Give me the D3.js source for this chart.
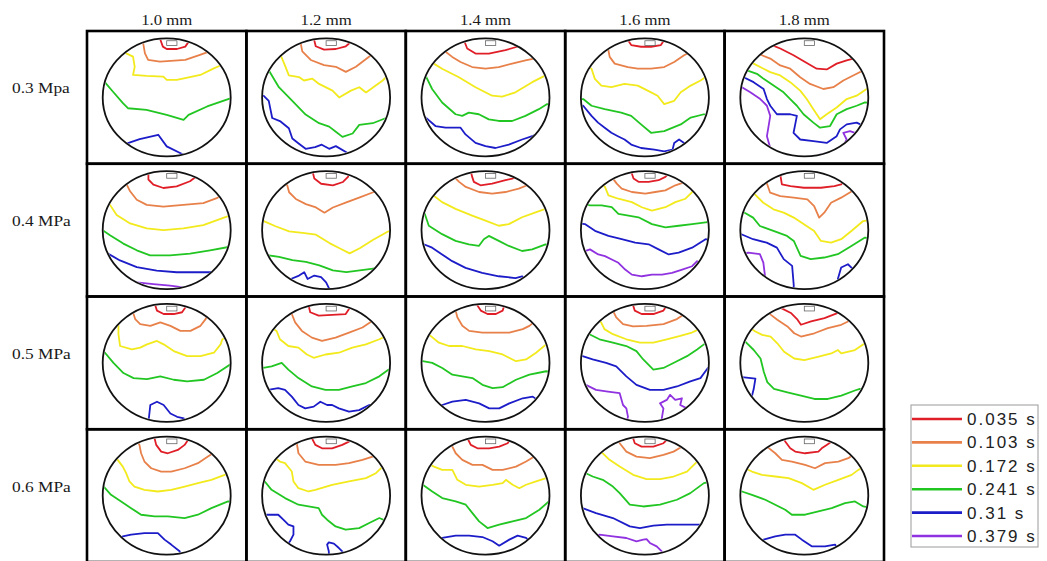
<!DOCTYPE html>
<html><head><meta charset="utf-8">
<script src="https://cdn.jsdelivr.net/npm/d3@7"></script>
<style>body{margin:0;background:#fff}svg{display:block}</style>
</head><body>
<svg id="chart" width="1047" height="561"></svg>
<script>
// Nozzle diameters (columns) and supply pressures (rows)
const diameters = ["1.0 mm", "1.2 mm", "1.4 mm", "1.6 mm", "1.8 mm"];
const pressures = ["0.3 Mpa", "0.4 MPa", "0.5 MPa", "0.6 MPa"];

// Fill-time isochrones (s) and their colours
const times = [0.035, 0.103, 0.172, 0.241, 0.31, 0.379];
const timeColors = ["#e01e28", "#e8804a", "#f2ea1c", "#22c622", "#1c1cc8", "#9032e0"];

// Isochrone polylines per cavity: [time, [[u, v], ...]], u/v in % of the disc's bounding box
const row03 = [
  [ // 1.0 mm
    [0.035, [[45,1],[47,7],[50,9],[58,9],[64.5,7],[68,1.5]]],
    [0.103, [[31.6,4],[33,12.7],[35.5,18.3],[44.7,19.7],[64.5,18.3],[76,14],[83,11.3]]],
    [0.172, [[18.4,12.7],[23.7,15.5],[25,24.2],[23.7,31],[34.2,31.8],[47.4,32.4],[50,35.2],[57.9,35.2],[76.3,31],[86.8,25.4],[92,23]]],
    [0.241, [[1.3,36.6],[7.9,45],[15.8,54.9],[19.7,59.2],[34.2,60.6],[50,64.8],[63.2,69],[67.1,64.8],[81.6,57.7],[100,50.7]]],
    [0.31,  [[19.7,88.7],[28.9,85.4],[43.4,81.7],[50,91.5],[63.2,98.6]]]
  ],
  [ // 1.2 mm
    [0.035, [[40.6,0.9],[41.9,6.7],[48.4,9.6],[57.6,9],[65.4,6.7],[70.2,2.3]]],
    [0.103, [[30.1,3.8],[31.4,11],[38,18.3],[48.4,22.6],[57.6,24.1],[65.4,28.4],[73.3,24.1],[83.8,15.4]]],
    [0.172, [[14.4,13.9],[18.3,24.1],[20.9,31.3],[28.8,32.8],[32.7,35.7],[39.3,34.2],[44.5,38.6],[55,44.3],[60.2,50.1],[69.4,44.3],[75.9,41.4],[81.2,45.8],[94.2,35.7],[96.9,32.8]]],
    [0.241, [[5.2,27],[13.1,41.4],[23.6,53],[34,64.6],[44.5,71.9],[52.4,74.8],[57.6,79.1],[62.8,83.5],[70.7,80.6],[75.9,73.3],[86.4,71.9],[96.9,67.5]]],
    [0.31,  [[1.3,48.7],[5.2,53],[7.9,67.5],[14.4,70.4],[20.9,76.2],[23.6,84.9],[28.8,89.3],[34,93.6],[41.4,92.2],[46.6,90.1],[52.4,93.6],[57.6,91.3],[68.1,98]]]
  ],
  [ // 1.4 mm
    [0.035, [[33.1,1.4],[35.7,8.6],[42.2,12.9],[52.6,12.9],[65.6,10],[74.7,7.1],[76,5.7]]],
    [0.103, [[18.8,11.4],[24,15.7],[30.5,20],[39.6,24.3],[50,25.7],[60.4,24.3],[70.8,21.4],[81.2,18.6],[87.8,17.1]]],
    [0.172, [[9.6,21.4],[16.1,25.7],[29.2,32.9],[42.2,41.4],[55.2,48.6],[63,49.4],[73.4,45.7],[86.5,37.1],[96.9,31.4]]],
    [0.241, [[3.1,31.4],[8.3,42.9],[16.1,54.3],[26.6,64.3],[31.8,65.7],[37,62.9],[44.8,64.3],[52.6,68.6],[60.4,70],[70.8,70],[81.2,65.7],[91.7,60],[98.2,55.7]]],
    [0.31,  [[1.8,65.7],[10.9,74.3],[18.8,75.7],[30.5,75.7],[34.4,81.4],[42.2,88.6],[50,91.4],[57.8,92.9],[68.2,90],[78.6,85.7],[86.5,82.9],[89.1,81.4]]]
  ],
  [ // 1.6 mm
    [0.035, [[36.7,1.4],[39.3,5.7],[47,7.1],[54.8,7.1],[62.5,5.7],[65.1,1.4]]],
    [0.103, [[21.2,8.6],[22.5,15.7],[26.4,21.4],[36.7,24.3],[44.4,25.7],[54.8,25.7],[65.1,24.3],[72.9,20],[80.6,14.3],[85.8,11.4]]],
    [0.172, [[8.3,25.7],[10.9,34.3],[16,40],[23.8,41.4],[34.1,38.6],[44.4,40],[52.2,44.3],[59.9,48.6],[65.1,55.7],[72.9,52.9],[78,45.7],[85.8,40],[93.5,35.7],[96.1,33.7]]],
    [0.241, [[1.8,51.4],[8.3,57.1],[18.6,60],[31.5,62.9],[39.3,65.7],[47,72.9],[54.8,80],[65.1,78.6],[78,72.9],[85.8,67.1],[96.1,64.3]]],
    [0.31,  [[1.8,57.1],[8.3,65.7],[13.4,71.4],[18.6,75.7],[23.8,80],[28.9,82.9],[34.1,85.7],[39.3,90],[47,92.9],[57.4,94.3],[65.1,95.7],[71.6,94.3],[72.9,88.6],[76.7,85.7],[80.6,88.6],[83.2,91.4]]]
  ],
  [ // 1.8 mm
    [0.035, [[24.7,5.7],[31.2,8.6],[41.6,14.3],[50.6,20],[59.7,25.7],[67.5,26.3],[75.3,21.4],[83.1,18.6],[88.3,17.1]]],
    [0.103, [[16.9,14.3],[23.4,17.1],[31.2,22.9],[39,25.7],[46.8,32.9],[54.5,38.6],[64.9,42.9],[72.7,41.4],[80.5,35.7],[90.9,30],[96.1,27.1]]],
    [0.172, [[10.4,21.4],[18.2,25.7],[23.4,28.6],[31.2,31.4],[39,37.1],[46.8,44.3],[51.9,51.4],[57.1,60],[62.3,68.6],[67.5,64.3],[75.3,58.6],[83.1,51.4],[90.9,48.6],[98.7,42.9]]],
    [0.241, [[5.2,27.1],[13,30],[18.2,34.3],[26,40],[33.8,45.7],[39,51.4],[44.2,57.1],[49.4,64.3],[57.1,71.4],[62.3,75.7],[70.1,74.3],[75.3,64.3],[83.1,60],[90.9,57.1],[97.4,54.3]]],
    [0.31,  [[2.6,32.9],[10.4,37.1],[18.2,42.9],[20.8,51.4],[23.4,57.1],[28.6,64.3],[39,64.3],[44.2,65.7],[42.9,72.9],[41.6,80],[46.8,85.7],[57.1,87.1],[67.5,88.6],[75.3,82.9],[77.9,77.1],[83.1,72.9],[90.9,71.4]]],
    [0.379, [[1.3,41.4],[7.8,45.7],[15.6,51.4],[20.8,57.1],[23.4,65.7],[22.1,74.3],[20.8,82.9],[23.4,92.9]]],
    [0.379, [[62.3,98.6],[72.7,95.7],[80.5,91.4],[83.1,85.7],[80.5,80],[85.7,78.6],[89.6,80]]]
  ]
];

const row04 = [
  [ // 1.0 mm
    [0.035, [[35.7,1.4],[35.7,7.1],[39.6,11.4],[47.4,14.3],[57.8,12.9],[68.2,8.6],[73.4,4.3]]],
    [0.103, [[18.8,11.4],[21.4,17.1],[26.6,24.3],[34.4,28.6],[47.4,30],[63,28.6],[78.6,27.1],[89.1,22.9]]],
    [0.172, [[5.7,28.6],[10.9,37.1],[21.4,44.3],[34.4,48.6],[47.4,50],[63,48.6],[78.6,45.7],[96.9,38.6]]],
    [0.241, [[0,50],[5.7,54.3],[16.1,61.4],[26.6,67.1],[37,71.4],[52.6,71.4],[68.2,70],[83.9,67.1],[98.2,64.3]]],
    [0.31,  [[4.4,70],[13.5,75.7],[26.6,81.4],[42.2,84.3],[57.8,85.7],[73.4,85.7],[86.5,85.7]]],
    [0.379, [[26.6,94.3],[39.6,95.7],[52.6,97.1],[63,98.6]]]
  ],
  [ // 1.2 mm
    [0.035, [[39.5,0.6],[40.8,6.3],[46.1,10.7],[55.3,12.1],[63.2,9.2],[67.1,4.9],[67.9,2]]],
    [0.103, [[19.7,12.1],[21.1,17.9],[26.3,23.6],[34.2,28],[42.1,30.8],[48.7,35.2],[55.3,30.8],[65.8,26.5],[76.3,22.2],[86.8,17.9]]],
    [0.172, [[1.3,42.4],[10.5,46.7],[21.1,51],[31.6,52.4],[42.1,53.9],[52.6,61],[60.5,65.4],[68.4,69.7],[76.3,65.4],[86.8,58.2],[98.7,51]]],
    [0.241, [[3.9,71.2],[13.2,72.6],[23.7,75.5],[34.2,76.9],[44.7,79.8],[55.3,84.1],[65.8,85.6],[76.3,84.1],[86.8,82.7],[97.4,76.9]]],
    [0.31,  [[22.4,91.4],[28.9,88.5],[32.9,85.6],[35.5,91.4],[40.8,88.5],[46.1,89.9],[50,94.2],[52.6,100]]]
  ],
  [ // 1.4 mm
    [0.035, [[39.6,4.9],[40.9,9.1],[46.1,12],[55.2,10.6],[65.6,7.7],[70.8,6.3],[76,4]]],
    [0.103, [[25.5,4.9],[29.4,9.1],[34.6,13.4],[45,17.7],[55.2,19.1],[65.6,17.7],[76,14.9],[82.6,12]]],
    [0.172, [[10.9,22],[16.1,26.3],[26.6,32],[39.6,37.7],[50,42],[60.4,46.3],[68.2,44.9],[78.6,39.1],[89.1,34.9],[96.9,32]]],
    [0.241, [[2.6,36.3],[5.7,46.3],[16.1,53.4],[26.6,59.1],[37,62],[44.8,63.4],[48.7,57.7],[52.6,54.9],[60.4,59.1],[68.2,63.4],[78.6,67.7],[86.5,66.3],[96.9,62]]],
    [0.31,  [[1.8,62],[8.3,64.9],[16.1,70.6],[24,76.3],[34.4,82],[47.4,86.3],[60.4,89.1],[73.4,90.6],[78.6,89.1]]]
  ],
  [ // 1.6 mm
    [0.035, [[39.8,2],[41.1,6.3],[45,9.1],[52.9,9.1],[60.7,7.7],[66,4.9],[68.6,2]]],
    [0.103, [[24.1,4.9],[28,10.6],[31.9,14.9],[39.8,17.7],[50.3,19.1],[58.1,17.7],[66,16.3],[73.8,12],[81.7,9.1]]],
    [0.172, [[18.8,13.4],[21.5,20.6],[29.3,23.4],[39.8,26.3],[47.6,30.6],[55.5,33.4],[66,30.6],[73.8,26.3],[81.7,23.4],[86.9,17.7]]],
    [0.241, [[7.1,29.1],[16.2,29.1],[24.1,30.6],[29.3,36.3],[37.2,37.7],[45,39.1],[55.5,44.9],[66,47.7],[76.4,46.3],[86.9,44.9],[97.4,43.4]]],
    [0.31,  [[3.1,44.9],[11,50.6],[21.5,54.9],[31.9,57.7],[42.4,60.6],[52.9,62],[60.7,66.3],[68.6,70.6],[76.4,69.1],[86.9,64.9],[97.4,57.7]]],
    [0.379, [[7.1,66.3],[13.6,70.6],[18.8,72],[24.1,74.9],[29.3,77.7],[34.6,83.4],[39.8,87.7],[47.6,89.1],[55.5,87.7],[63.4,87.7],[71.2,86.3],[79.1,83.4],[86.9,80.6],[90.8,76.3]]]
  ],
  [ // 1.8 mm
    [0.035, [[31.2,2.8],[32.5,11.3],[39.2,12.7],[49.7,14.1],[63,14.1],[73.5,12.7],[78.8,11.3]]],
    [0.103, [[20.6,9.9],[23.3,18.3],[31.2,21.1],[41.8,22.5],[52.4,23.9],[57.7,29.6],[61.6,39.4],[65.6,35.2],[70.9,26.8],[78.8,22.5],[89.4,15.5]]],
    [0.172, [[11.4,19.7],[18,26.8],[25.9,32.4],[33.9,35.2],[41.8,39.4],[49.7,45.1],[57.7,50.7],[63,59.2],[70.9,60.6],[78.8,57.7],[86.8,50.7],[96,42.3]]],
    [0.241, [[3.4,35.2],[10,39.4],[15.3,46.5],[25.9,50.7],[36.5,54.9],[41.8,59.2],[47.1,71.8],[55,74.6],[65.6,73.2],[76.2,70.4],[86.8,63.4],[97.4,56.3]]],
    [0.31,  [[0.8,53.5],[10,57.7],[20.6,60.6],[28.6,64.8],[33.9,74.6],[40.5,80.3],[41.8,97.2]]],
    [0.31,  [[76.2,91.5],[78.8,81.7],[84.1,78.9],[86.8,81.7]]],
    [0.379, [[6.1,69],[15.3,70.4],[18,77.5],[19.3,88.7]]]
  ]
];

const row05 = [
  [ // 1.0 mm
    [0.035, [[41.1,1.4],[42.4,5.7],[47.6,8.6],[55.5,8.6],[62,7.1],[64.7,2.9]]],
    [0.103, [[24.1,8.6],[25.4,12.9],[29.3,17.1],[37.2,18.6],[45,15.7],[52.9,18.6],[60.7,22.9],[68.6,22.9],[76.4,18.6],[80.4,12.9],[81.7,10]]],
    [0.172, [[12.3,18.6],[12.3,25.7],[13.6,35.7],[22.8,38.6],[29.3,37.1],[34.6,34.3],[42.4,31.4],[47.6,34.3],[55.5,40],[66,44.3],[76.4,44.3],[86.9,41.4],[92.1,34.3],[93.5,30]]],
    [0.241, [[1.8,41.4],[8.4,50],[16.2,58.6],[24.1,62.9],[34.6,63.7],[45,61.4],[55.5,64.3],[66,65.7],[79.1,64.3],[89.5,58.6],[99.5,51.4]]],
    [0.31,  [[35.9,98.6],[37.2,85.7],[42.4,82.9],[47.6,85.7],[52.9,92.9],[58.1,95.7],[63.4,97.1]]]
  ],
  [ // 1.2 mm
    [0.035, [[36.3,1.4],[37.6,7.1],[44.2,10],[54.7,9.4],[65.3,8.6],[67.9,4.3]]],
    [0.103, [[23.2,8.6],[25.8,15.7],[31.1,22.9],[38.9,28.6],[46.8,31.4],[57.4,28.6],[67.9,24.3],[78.4,20],[86.3,14.3]]],
    [0.172, [[11.3,22.9],[13.9,30],[20.5,35.7],[28.4,37.1],[35,42.9],[40.3,45.7],[49.5,42.9],[60,41.4],[70.5,37.1],[81.1,34.3],[91.6,30],[97.4,27.1]]],
    [0.241, [[0.8,54.3],[7.4,52.9],[15.3,50],[20.5,55.7],[28.4,62.9],[38.9,70],[49.5,72.9],[60,72.9],[70.5,70],[81.1,67.1],[91.6,61.4],[98.9,55.7]]],
    [0.31,  [[4.7,72.9],[12.6,71.4],[17.9,72.9],[23.2,78.6],[28.4,85.7],[33.7,88.6],[40.3,87.1],[45.5,82.9],[50.8,85.7],[54.7,85.7],[60,88.6],[67.9,91.4],[75.8,90],[83.7,85.7]]]
  ],
  [ // 1.4 mm
    [0.035, [[43.7,1.4],[46.3,5.7],[51.6,8.6],[58.1,8.6],[63.4,5.7],[64.7,1.4]]],
    [0.103, [[26.7,5.7],[28,11.4],[31.9,18.6],[37.2,22.9],[47.6,24.3],[58.1,24.3],[68.6,24.3],[79.1,21.4],[84.3,18.6]]],
    [0.172, [[7.1,27.1],[13.6,32.9],[21.5,35.7],[31.9,35.7],[42.4,38.6],[52.9,40],[63.4,42.9],[73.8,48.6],[81.7,47.1],[89.5,41.4],[97.4,34.3]]],
    [0.241, [[1,48.6],[8.4,50],[16.2,54.3],[24.1,60],[31.9,61.4],[39.8,62.9],[47.6,68.6],[55.5,71.4],[63.4,70.6],[73.8,64.3],[84.3,60],[97.4,57.1]]],
    [0.31,  [[16.2,85.7],[24.1,82.9],[34.6,81.4],[45,84.3],[52.9,88.6],[60.7,88.6],[68.6,84.3],[79.1,80],[86.9,78.6]]]
  ],
  [ // 1.6 mm
    [0.035, [[40.8,1.4],[42.1,5.7],[47.4,8.6],[56.6,8.6],[64.5,5.7],[67.1,1.4]]],
    [0.103, [[25,5.7],[27.6,11.4],[32.9,17.1],[40.8,19.1],[51.3,18.6],[64.5,17.1],[75,12.9],[78.9,10]]],
    [0.172, [[15.8,15.7],[18.4,21.4],[25,25.7],[35.5,30],[46.1,32.9],[56.6,32.9],[67.1,30],[77.6,27.1],[86.8,24.3],[89.5,22.9]]],
    [0.241, [[6.6,25.7],[14.5,30],[25,32.9],[35.5,35.7],[43.4,40],[48.7,47.1],[56.6,55.7],[64.5,54.3],[75,48.6],[82.9,44.3],[90.8,38.6],[96.1,34.3]]],
    [0.31,  [[1.3,44.3],[9.2,47.1],[19.7,50],[27.6,52.9],[35.5,61.4],[43.4,68.6],[53.9,72.9],[64.5,72.9],[75,70],[85.5,65.7],[93.4,62.9],[99.2,54.3]]],
    [0.379, [[3.9,68.6],[11.8,72.9],[21.1,74.3],[30.3,75.7],[32.9,85.7],[35.5,88.6],[36.8,95.7]]],
    [0.379, [[63.2,97.1],[64.5,88.6],[61.8,84.3],[67.1,81.4],[69.7,77.1],[73.7,81.4],[78.9,80],[77.6,85.7],[82.9,88.6]]]
  ],
  [ // 1.8 mm
    [0.035, [[31.6,3.4],[39.5,7.7],[44.7,13.4],[47.4,17.7],[55.3,14.9],[65.8,12],[76.3,7.7]]],
    [0.103, [[23.7,9.1],[28.9,13.4],[36.8,19.1],[42.1,24.9],[47.4,27.7],[57.9,24.9],[68.4,20.6],[78.9,17.7],[84.2,14.9]]],
    [0.172, [[11.8,23.4],[17.1,26.3],[23.7,27.7],[28.9,33.4],[34.2,40.6],[42.1,46.3],[50,47.7],[60.5,44.9],[71.1,42],[76.3,39.1],[78.9,42],[89.5,39.1],[97.4,33.4]]],
    [0.241, [[3.9,32],[10.5,39.1],[15.8,46.3],[18.4,57.7],[21.1,66.3],[26.3,72],[36.8,74.9],[47.4,77.7],[57.9,80.6],[68.4,80.6],[78.9,77.7],[89.5,73.4],[93.4,72]]],
    [0.31,  [[1.3,62],[11.8,63.4],[10.5,72],[9.2,77.7]]]
  ]
];

const row06 = [
  [ // 1.0 mm
    [0.035, [[40.5,1.4],[41.8,7],[45.7,12.7],[50.9,14.1],[58.7,11.3],[64,7],[66.6,2.8]]],
    [0.103, [[28.7,7],[30,14.1],[32.6,21.1],[37.9,26.8],[45.7,29.6],[53.5,29.6],[64,26.8],[74.4,22.5],[82.2,16.9],[86.2,14.1]]],
    [0.172, [[11.7,19.7],[15.7,25.4],[18.3,31],[20.9,38],[24.8,42.3],[32.6,45.1],[43.1,46.5],[53.5,45.1],[64,42.3],[74.4,39.4],[84.9,36.6],[95.3,32.4]]],
    [0.241, [[0.8,42.3],[6.5,49.3],[14.4,54.9],[22.2,60.6],[30,66.2],[40.5,67.6],[50.9,67.6],[64,69],[74.4,66.2],[84.9,60.6],[97.9,54.9]]],
    [0.31,  [[15.7,84.5],[22.2,83.1],[32.6,81.7],[43.1,81.7],[48.3,87.3],[53.5,91.5],[60.1,97.2]]]
  ],
  [ // 1.2 mm
    [0.035, [[38.9,1.4],[41.6,7],[46.8,9.9],[54.7,9.9],[62.6,7],[67.9,4.2]]],
    [0.103, [[27.1,5.6],[28.4,14.1],[33.7,21.1],[44.2,23.9],[57.4,23.9],[67.9,22.5],[78.4,19.7],[86.3,16.9],[92.9,14.1]]],
    [0.172, [[13.9,21.1],[17.9,22.5],[23.2,29.6],[24.5,38],[28.4,43.7],[36.3,46.5],[41.6,45.1],[54.7,40.8],[67.9,38],[81.1,35.2],[88.9,31],[94.2,25.4]]],
    [0.241, [[2.1,38],[7.4,45.1],[17.9,52.1],[28.4,57.7],[36.3,59.2],[44.2,60.6],[46.8,66.2],[50.8,70.4],[57.4,76.1],[65.3,78.9],[75.8,77.5],[83.7,73.2],[91.6,69]]],
    [0.31,  [[3.4,66.2],[12.6,66.2],[16.6,70.4],[20.5,74.6],[24.5,76.1],[24.5,83.1],[21.8,88.7]]],
    [0.31,  [[52.1,97.2],[50.8,91.5],[52.1,89.6],[56.1,90.7],[60,94.4],[62.6,97.2]]]
  ],
  [ // 1.4 mm
    [0.035, [[35.9,1.4],[38.5,7],[43.7,9.9],[52.9,9.9],[60.7,8.5],[67.3,5.6],[68.6,3.4]]],
    [0.103, [[24.1,8.5],[26.7,14.1],[31.9,19.7],[39.8,23.9],[47.6,23.9],[55.5,28.2],[63.4,28.2],[73.8,25.4],[81.7,21.1],[88.2,16.9]]],
    [0.172, [[9.7,25.4],[16.2,28.2],[24.1,28.2],[28,36.6],[34.6,40.8],[45,42.3],[55.5,40.8],[63.4,39.4],[66,36.6],[71.2,40.8],[76.4,43.7],[81.7,40.8],[89.5,38],[97.4,35.2]]],
    [0.241, [[1,40.8],[8.4,46.5],[16.2,52.1],[26.7,54.9],[34.6,57.7],[39.8,64.8],[45,71.8],[51.6,77.5],[60.7,74.6],[71.2,71.8],[81.7,69],[92.1,62],[99.5,54.9]]],
    [0.31,  [[16.2,85.9],[26.7,83.9],[37.2,83.9],[47.6,85.1],[55.5,88.7],[60.7,92.4],[68.6,87.3],[75.1,83.9],[81.7,85.9]]]
  ],
  [ // 1.6 mm
    [0.035, [[40.8,1.4],[42.1,5.6],[47.4,8.5],[56.6,8.5],[64.5,5.6],[68.4,1.4]]],
    [0.103, [[30.3,5.6],[35.5,12.7],[43.4,16.9],[53.9,18.3],[64.5,15.5],[72.4,12.7],[78.9,8.5]]],
    [0.172, [[17.1,14.1],[22.4,19.7],[30.3,25.4],[40.8,32.4],[51.3,36.1],[61.8,36.1],[72.4,33.8],[82.9,29.6],[90.8,21.1]]],
    [0.241, [[3.9,31],[9.2,33.8],[17.1,36.6],[25,42.3],[30.3,47.9],[38.2,57.7],[48.7,59.2],[61.8,57.7],[75,53.5],[85.5,47.9],[96.1,39.4]]],
    [0.31,  [[1.3,60.6],[11.8,64.8],[25,69],[38.2,76.1],[46.1,77.5],[56.6,75.5],[67.1,74.6],[80.3,74.6],[93.4,74.6]]],
    [0.379, [[14.5,83.1],[25,84.5],[35.5,85.9],[43.4,88.7],[48.7,87.3],[51.3,86.8],[53.9,90.1],[59.2,93],[63.2,97.2]]]
  ],
  [ // 1.8 mm
    [0.035, [[35.1,4.2],[39,9.9],[42.9,12.7],[50.6,14.1],[61,12.7],[63.6,9.9],[67.5,7],[71.4,4.2]]],
    [0.103, [[20.8,8.5],[27.3,14.1],[32.5,19.7],[40.3,21.1],[50.6,23.9],[58.4,26.8],[66.2,22.5],[76.6,21.1],[84.4,18.3],[89.6,14.1]]],
    [0.172, [[9.1,29.6],[16.9,32.4],[27.3,33.8],[37.7,35.2],[48.1,39.4],[57.1,45.1],[66.2,40.8],[76.6,36.6],[87,32.4],[92.2,28.2]]],
    [0.241, [[1.3,46.5],[9.1,49.3],[19.5,53.5],[27.3,57.7],[35.1,62],[40.3,66.2],[50.6,66.2],[61,63.4],[71.4,60.6],[81.8,56.3],[89.6,54.9],[96.1,59.2]]],
    [0.31,  [[18.2,87.3],[27.3,84.5],[35.1,83.1],[42.9,83.1],[48.1,87.3],[55.8,93],[66.2,93],[74,91.5]]]
  ]
];

const cavityRows = [row03, row04, row05, row06];

const svg = d3.select("#chart");

const col = d3.scaleBand().domain(diameters).range([87, 884]);
const row = d3.scaleBand().domain(pressures).range([31, 562]);
const color = d3.scaleOrdinal().domain(times).range(timeColors);

const RX = 64, RY = 59;   // disc half-axes in px

// push both ends of a polyline radially out past the disc rim so the clip trims them cleanly
function toRim(pts) {
  const out = p => {
    const dx = p[0] - 50, dy = p[1] - 50, r = Math.hypot(dx, dy) || 1;
    return [50 + dx / r * 60, 50 + dy / r * 60];
  };
  return [out(pts[0]), ...pts, out(pts[pts.length - 1])];
}

const defs = svg.append("defs");

// column headers
svg.append("g").selectAll("text").data(diameters).join("text")
  .attr("transform", d => `translate(${col(d) + col.bandwidth() / 2},25) scale(1.08,1)`)
  .attr("text-anchor", "middle")
  .attr("font-family", "Liberation Serif, Times New Roman, serif")
  .attr("font-size", 15.5)
  .attr("fill", "#1a1a1a")
  .text(d => d);

// row labels
svg.append("g").selectAll("text").data(pressures).join("text")
  .attr("transform", d => `translate(12,${row(d) + row.bandwidth() / 2 - 4}) scale(1.12,1)`)
  .attr("font-family", "Liberation Serif, Times New Roman, serif")
  .attr("font-size", 15.5)
  .attr("fill", "#1a1a1a")
  .text(d => d);

pressures.forEach((p, i) => {
  diameters.forEach((d, j) => {
    const cx = col(d) + col.bandwidth() / 2;
    const cy = row(p) + row.bandwidth() / 2;
    const x = d3.scaleLinear().domain([0, 100]).range([cx - RX, cx + RX]);
    const y = d3.scaleLinear().domain([0, 100]).range([cy - RY, cy + RY]);
    const line = d3.line().x(q => x(q[0])).y(q => y(q[1]));
    const id = `disc-${i}-${j}`;

    defs.append("clipPath").attr("id", id)
      .append("ellipse").attr("cx", cx).attr("cy", cy).attr("rx", RX - 1).attr("ry", RY - 1);

    const g = svg.append("g");
    g.append("rect")
      .attr("x", col(d)).attr("y", row(p))
      .attr("width", col.bandwidth()).attr("height", row.bandwidth())
      .attr("fill", "#fff");

    g.append("g").attr("clip-path", `url(#${id})`)
      .selectAll("path").data(cavityRows[i][j]).join("path")
      .attr("d", c => line(toRim(c[1])))
      .attr("fill", "none")
      .attr("stroke", c => color(c[0]))
      .attr("stroke-width", 1.8)
      .attr("stroke-linejoin", "round");

    g.append("ellipse")
      .attr("cx", cx).attr("cy", cy).attr("rx", RX).attr("ry", RY)
      .attr("fill", "none").attr("stroke", "#111").attr("stroke-width", 1.8);

    // gate marker at the top of the disc
    g.append("rect")
      .attr("x", x(50)).attr("y", y(2))
      .attr("width", x(58) - x(50)).attr("height", y(6) - y(2))
      .attr("fill", "none").attr("stroke", "#666").attr("stroke-width", 0.8);
  });
});

// grid
const grid = svg.append("g").attr("fill", "none").attr("stroke", "#000").attr("stroke-width", 2.6);
pressures.forEach(p => diameters.forEach(d => {
  grid.append("rect")
    .attr("x", col(d)).attr("y", row(p))
    .attr("width", col.bandwidth()).attr("height", row.bandwidth());
}));

// legend
const leg = svg.append("g");
leg.append("rect")
  .attr("x", 911).attr("y", 405).attr("width", 127).attr("height", 142)
  .attr("fill", "#fff").attr("stroke", "#9a9a9a").attr("stroke-width", 1);
const ly = d3.scalePoint().domain(times).range([419, 536]);
const item = leg.selectAll("g.item").data(times).join("g").attr("class", "item")
  .attr("transform", t => `translate(0,${ly(t)})`);
item.append("line")
  .attr("x1", 912).attr("x2", 962).attr("y1", 0).attr("y2", 0)
  .attr("stroke", t => color(t)).attr("stroke-width", 2.6);
item.append("text")
  .attr("x", 967).attr("y", 6)
  .attr("font-family", "Liberation Sans, Arial, sans-serif")
  .attr("font-size", 17)
  .attr("letter-spacing", 2)
  .attr("fill", "#222")
  .text(t => `${t} s`);
</script>
</body></html>
